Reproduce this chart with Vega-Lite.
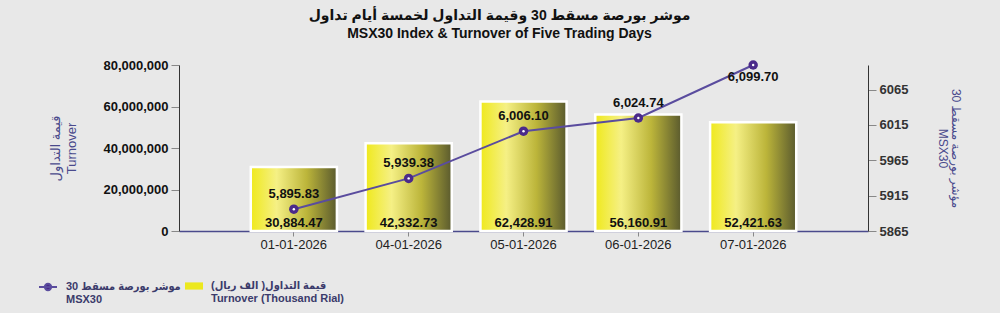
{
  "$schema": "https://vega.github.io/schema/vega-lite/v6.json",
  "width": 689,
  "height": 166,
  "autosize": {"type": "none"},
  "padding": {"left": 179, "top": 65, "right": 132, "bottom": 82},
  "background": "#e8e8e8",
  "config": {
    "font": "Liberation Sans, DejaVu Sans, sans-serif",
    "view": {"stroke": null},
    "axis": {"grid": false}
  },
  "title": {
    "text": ["موشر بورصة مسقط 30 وقيمة التداول لخمسة أيام تداول", "MSX30 Index & Turnover of Five Trading Days"],
    "fontSize": 14,
    "fontWeight": "bold",
    "color": "#111111",
    "anchor": "middle",
    "dx": -24,
    "lineHeight": 18,
    "offset": 18
  },
  "data": {
    "values": [
      {"date": "01-01-2026", "turnover": 30884470, "turnover_k": 30884.47, "msx30": 5895.83},
      {"date": "04-01-2026", "turnover": 42332730, "turnover_k": 42332.73, "msx30": 5939.38},
      {"date": "05-01-2026", "turnover": 62428910, "turnover_k": 62428.91, "msx30": 6006.10},
      {"date": "06-01-2026", "turnover": 56160910, "turnover_k": 56160.91, "msx30": 6024.74},
      {"date": "07-01-2026", "turnover": 52421630, "turnover_k": 52421.63, "msx30": 6099.70}
    ]
  },
  "encoding": {
    "x": {
      "field": "date", "type": "nominal", "sort": null,
      "scale": {"paddingInner": 0.25, "paddingOuter": 0.625},
      "axis": {
        "title": null, "labelAngle": 0, "labelFontSize": 13, "labelColor": "#222222",
        "labelPadding": 2, "domainColor": "#4a4a8c", "domainWidth": 1.5,
        "tickColor": "#888888", "tickSize": 5
      }
    }
  },
  "layer": [
    {
      "layer": [
        {
          "mark": {"type": "bar", "stroke": "white", "strokeWidth": 2.5,
            "fill": {"gradient": "linear", "x1": 0, "x2": 1, "y1": 0, "y2": 0,
              "stops": [
                {"offset": 0, "color": "#efe91c"},
                {"offset": 0.3, "color": "#f5f085"},
                {"offset": 0.65, "color": "#bcb53a"},
                {"offset": 1, "color": "#5a5a2e"}
              ]}},
          "encoding": {
            "y": {
              "field": "turnover", "type": "quantitative",
              "scale": {"domain": [0, 80000000], "nice": false},
              "axis": {
                "orient": "left",
                "title": ["قيمة التداول", "Turnover"],
                "titleColor": "#4a4a8c", "titleFontSize": 13, "titleFontWeight": "normal",
                "titleLineHeight": 16, "titlePadding": 24,
                "values": [0, 20000000, 40000000, 60000000, 80000000],
                "format": ",d", "labelFontSize": 13, "labelFontWeight": "bold", "labelColor": "#111111",
                "labelPadding": 3, "tickSize": 8, "tickColor": "#888888", "domainColor": "#333333"
              }
            }
          }
        },
        {
          "mark": {"type": "square", "opacity": 0, "size": 10},
          "encoding": {
            "y": {"field": "turnover", "type": "quantitative"},
            "fill": {
              "datum": "Turnover",
              "scale": {"range": ["#ece81e"]},
              "legend": {
                "orient": "none", "legendX": 6, "legendY": 212, "title": null,
                "symbolType": "M-1,-0.4H1V0.4H-1Z", "symbolSize": 324, "symbolStrokeWidth": 0,
                "symbolOpacity": 1,
                "labelFont": "Liberation Sans, DejaVu Sans Condensed, DejaVu Sans",
                "labelFontSize": 11, "labelFontWeight": "bold", "labelColor": "#3b3b6b",
                "labelExpr": "['قيمة التداول( الف ريال)', 'Turnover (Thousand Rial)']",
                "labelOffset": 8, "labelLimit": 300
              }
            }
          }
        },
        {
          "mark": {"type": "text", "dy": -8, "baseline": "middle", "fontSize": 13, "fontWeight": "bold", "color": "#111111"},
          "encoding": {
            "y": {"datum": 0, "type": "quantitative"},
            "text": {"field": "turnover_k", "type": "quantitative", "format": ",.2f"}
          }
        }
      ]
    },
    {
      "layer": [
        {
          "mark": {"type": "line", "strokeWidth": 2},
          "encoding": {
            "y": {
              "field": "msx30", "type": "quantitative",
              "scale": {"domain": [5865, 6099.7], "nice": false, "zero": false},
              "axis": {
                "orient": "right",
                "title": ["مؤشر بورصة مسقط 30", "MSX30"],
                "titleAngle": 90,
                "titleColor": "#4a4a8c", "titleFontSize": 12, "titleFontWeight": "normal",
                "titleLineHeight": 13, "titlePadding": 28,
                "values": [5865, 5915, 5965, 6015, 6065],
                "format": "d", "labelFontSize": 13, "labelFontWeight": "bold", "labelColor": "#333333",
                "labelPadding": 3, "tickSize": 8, "tickColor": "#888888", "domainColor": "#333333"
              }
            },
            "stroke": {
              "datum": "MSX30",
              "scale": {"range": ["#5a4c9e"]},
              "legend": {
                "orient": "none", "legendX": -141, "legendY": 212, "title": null,
                "symbolType": "M-1,0H1M-0.35,0A0.35,0.35,0,1,1,0.35,0A0.35,0.35,0,1,1,-0.35,0",
                "symbolSize": 324, "symbolFillColor": "#4b2a8a", "symbolStrokeWidth": 2,
                "labelFont": "Liberation Sans, DejaVu Sans Condensed, DejaVu Sans",
                "labelFontSize": 11, "labelFontWeight": "bold", "labelColor": "#3b3b6b",
                "labelExpr": "['موشر بورصة مسقط 30', 'MSX30']",
                "labelOffset": 8, "labelLimit": 300
              }
            }
          }
        },
        {
          "mark": {"type": "point", "filled": true, "size": 90, "color": "#4b2a8a", "opacity": 1},
          "encoding": {"y": {"field": "msx30", "type": "quantitative"}}
        },
        {
          "mark": {"type": "point", "filled": true, "size": 6, "color": "white", "opacity": 1},
          "encoding": {"y": {"field": "msx30", "type": "quantitative"}}
        },
        {
          "transform": [{"filter": "datum.date != '07-01-2026'"}],
          "mark": {"type": "text", "dy": -15, "baseline": "middle", "fontSize": 13, "fontWeight": "bold", "color": "#111111"},
          "encoding": {
            "y": {"field": "msx30", "type": "quantitative"},
            "text": {"field": "msx30", "type": "quantitative", "format": ",.2f"}
          }
        },
        {
          "transform": [{"filter": "datum.date == '07-01-2026'"}],
          "mark": {"type": "text", "dy": 12, "baseline": "middle", "fontSize": 13, "fontWeight": "bold", "color": "#111111"},
          "encoding": {
            "y": {"field": "msx30", "type": "quantitative"},
            "text": {"field": "msx30", "type": "quantitative", "format": ",.2f"}
          }
        }
      ]
    }
  ],
  "resolve": {"scale": {"y": "independent"}}
}
